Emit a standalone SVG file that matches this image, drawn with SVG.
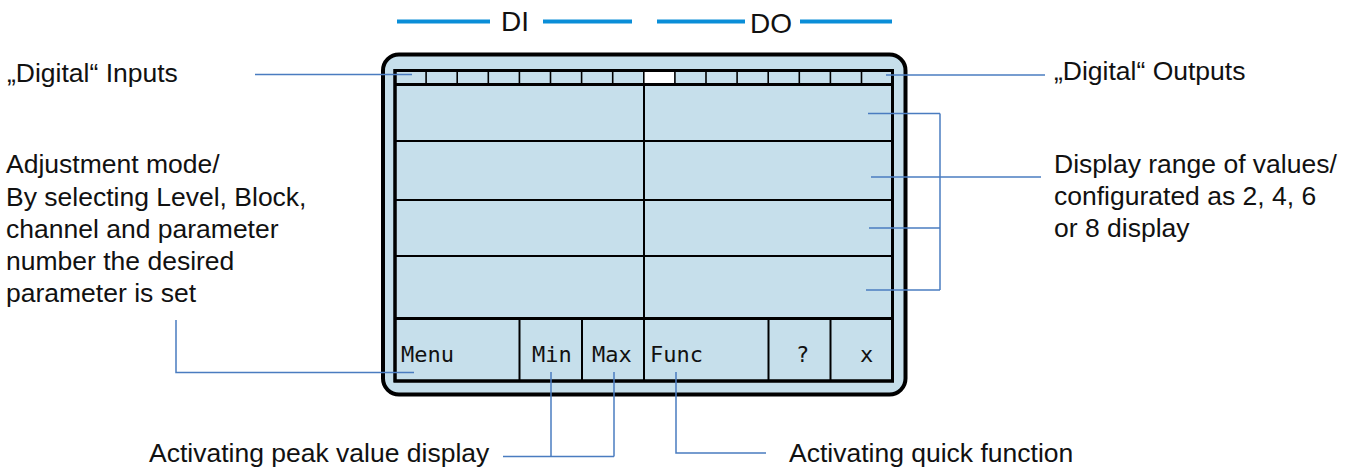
<svg xmlns="http://www.w3.org/2000/svg" width="1358" height="470" viewBox="0 0 1358 470">
<style>
.lbl{font-family:"Liberation Sans",Arial,sans-serif;font-size:26.5px;fill:#111}
.hd{font-family:"Liberation Sans",Arial,sans-serif;font-size:28px;fill:#111}
.mono{font-family:"DejaVu Sans Mono",monospace;font-size:22px;fill:#111}
.con{stroke:#4a7cc0;stroke-width:1.5;fill:none}
.bar{stroke:#0a8ed8;stroke-width:4;fill:none}
.thick{stroke:#000;stroke-width:3;fill:none}
.thin{stroke:#000;stroke-width:2;fill:none}
.cell{stroke:#000;stroke-width:1.6;fill:none}
</style>
<rect width="1358" height="470" fill="#fff"/>
<g id="header">
<line class="bar" x1="397" y1="21.5" x2="490" y2="21.5"/>
<line class="bar" x1="543" y1="21.5" x2="632" y2="21.5"/>
<line class="bar" x1="657" y1="21.5" x2="745" y2="21.5"/>
<line class="bar" x1="800" y1="21.5" x2="892" y2="21.5"/>
<text class="hd" x="501" y="31">DI</text>
<text class="hd" x="750" y="33">DO</text>
</g>
<g id="display">
<rect x="383" y="54.5" width="522.5" height="340" rx="16" fill="#c6dfeb" stroke="#000" stroke-width="4"/>
<rect x="395" y="70.5" width="497.5" height="310.5" fill="#c6dfeb" class="thick"/>
<rect x="643.8" y="70.5" width="31.1" height="13.5" fill="#fff"/>
<g class="cell">
<line x1="426.1" y1="70.5" x2="426.1" y2="84"/>
<line x1="457.2" y1="70.5" x2="457.2" y2="84"/>
<line x1="488.3" y1="70.5" x2="488.3" y2="84"/>
<line x1="519.4" y1="70.5" x2="519.4" y2="84"/>
<line x1="550.5" y1="70.5" x2="550.5" y2="84"/>
<line x1="581.6" y1="70.5" x2="581.6" y2="84"/>
<line x1="612.7" y1="70.5" x2="612.7" y2="84"/>
<line x1="643.8" y1="70.5" x2="643.8" y2="84"/>
<line x1="674.9" y1="70.5" x2="674.9" y2="84"/>
<line x1="706" y1="70.5" x2="706" y2="84"/>
<line x1="737.1" y1="70.5" x2="737.1" y2="84"/>
<line x1="768.2" y1="70.5" x2="768.2" y2="84"/>
<line x1="799.3" y1="70.5" x2="799.3" y2="84"/>
<line x1="830.4" y1="70.5" x2="830.4" y2="84"/>
<line x1="861.5" y1="70.5" x2="861.5" y2="84"/>
</g>
<line class="thick" x1="395" y1="84.5" x2="892.5" y2="84.5"/>
<line class="thin" x1="644" y1="84.5" x2="644" y2="318.5"/>
<line class="thin" x1="395" y1="141" x2="892.5" y2="141"/>
<line class="thin" x1="395" y1="200" x2="892.5" y2="200"/>
<line class="thin" x1="395" y1="256" x2="892.5" y2="256"/>
<line class="thick" x1="395" y1="318.5" x2="892.5" y2="318.5"/>
<line class="thin" x1="519.5" y1="318.5" x2="519.5" y2="381"/>
<line class="thin" x1="582" y1="318.5" x2="582" y2="381"/>
<line class="thin" x1="644" y1="318.5" x2="644" y2="381"/>
<line class="thin" x1="768.5" y1="318.5" x2="768.5" y2="381"/>
<line class="thin" x1="830.5" y1="318.5" x2="830.5" y2="381"/>
<rect x="395" y="70.5" width="497.5" height="310.5" class="thick"/>
<text class="mono" x="401" y="362">Menu</text>
<text class="mono" x="532" y="362">Min</text>
<text class="mono" x="592" y="362">Max</text>
<text class="mono" x="650" y="362">Func</text>
<text class="mono" x="796" y="362">?</text>
<text class="mono" x="860" y="362">x</text>
</g>
<g id="labels">
<text class="lbl" x="7" y="82">„Digital“ Inputs</text>
<text class="lbl" x="1054" y="80">„Digital“ Outputs</text>
<text class="lbl" x="6" y="173">Adjustment mode/</text>
<text class="lbl" x="6" y="205.5">By selecting Level, Block,</text>
<text class="lbl" x="6" y="238">channel and parameter</text>
<text class="lbl" x="6" y="270">number the desired</text>
<text class="lbl" x="6" y="302">parameter is set</text>
<text class="lbl" x="1054" y="173">Display range of values/</text>
<text class="lbl" x="1054" y="205">configurated as 2, 4, 6</text>
<text class="lbl" x="1054" y="237">or 8 display</text>
<text class="lbl" x="149" y="462">Activating peak value display</text>
<text class="lbl" x="789" y="462">Activating quick function</text>
</g>
<g id="connectors" class="con">
<line x1="255" y1="74.5" x2="412" y2="74.5"/>
<line x1="886" y1="75" x2="1045" y2="75"/>
<polyline points="176,320 176,372.5 414,372.5"/>
<line x1="868" y1="113.5" x2="940" y2="113.5"/>
<line x1="940" y1="113.5" x2="940" y2="290"/>
<line x1="869" y1="228" x2="940" y2="228"/>
<line x1="866" y1="290" x2="940" y2="290"/>
<line x1="871" y1="177" x2="1041" y2="177"/>
<line x1="551" y1="372" x2="551" y2="456.5"/>
<line x1="614" y1="372" x2="614" y2="456.5"/>
<line x1="503" y1="456.5" x2="614" y2="456.5"/>
<polyline points="676,372 676,453 766,453"/>
</g>
</svg>
